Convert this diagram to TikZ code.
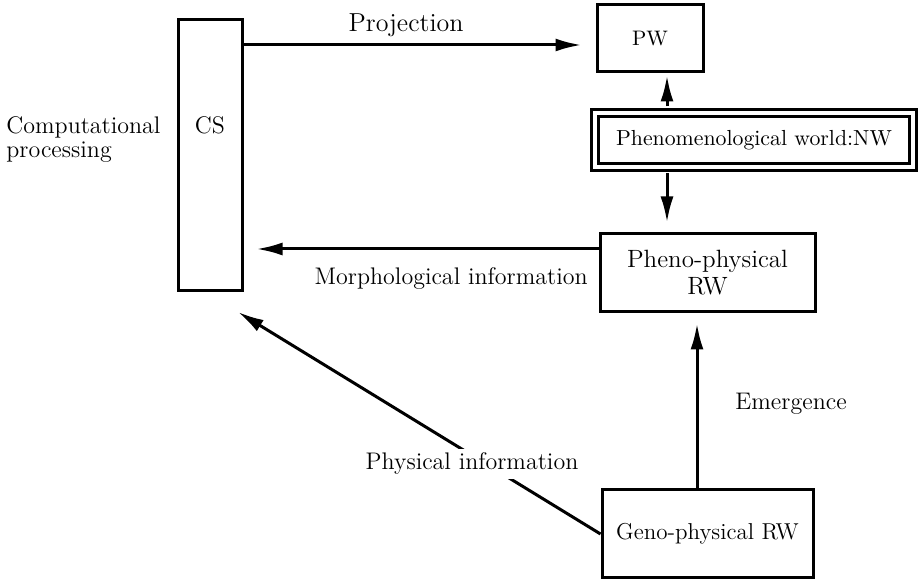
\documentclass[tikz,border=0pt]{standalone}
\usetikzlibrary{arrows.meta,calc}
\begin{document}
\begin{tikzpicture}[x=0.5pt,y=-0.5pt,
  font=\fontsize{12}{14.4}\selectfont,
  box/.style={draw,line width=1.5pt,inner sep=0pt,align=center},
  arr/.style={line width=1.5pt,-{Latex[length=13pt,width=6.5pt]}},
  lbl/.style={inner sep=0pt}]
\useasboundingbox (0,0) rectangle (921,581);

% boxes
\node[box,minimum width=32pt,minimum height=135.5pt] (cs) at (210,155.5) {};
\node[lbl,anchor=base,font=\fontsize{12}{14}\selectfont] (cstext) at (210,134) {CS};
\node[box,minimum width=53pt,minimum height=33.5pt,font=\fontsize{10.5}{12}\selectfont] (pw) at (650,38.5) {PW};
\node[box,double,double distance=2pt,minimum width=159pt,minimum height=27pt,font=\fontsize{10.9}{13}\selectfont] (nw) at (754,140) {Phenomenological world:NW};
\node[box,minimum width=107.5pt,minimum height=39pt,font=\fontsize{12.5}{13.5}\selectfont] (pheno) at (707.5,273) {Pheno-physical\\RW};
\node[box,minimum width=105.5pt,minimum height=44pt,font=\fontsize{11.5}{13}\selectfont] (geno) at (707.5,534) {Geno-physical RW};

% labels
\node[lbl,anchor=base west] (comp1) at (6,134) {Computational};
\node[lbl,anchor=base west] (comp2) at (6,158) {processing};
\node[lbl,anchor=base,font=\fontsize{13}{15}\selectfont] (proj) at (406,32) {Projection};
\node[lbl,anchor=base east] (morph) at (588,285) {Morphological information};
\node[lbl,anchor=base west] (emerg) at (735,410) {Emergence};

% helper coordinates
\coordinate (py) at (0,45);
\coordinate (vx) at (667,0);
\coordinate (my) at (0,249);
\coordinate (ex) at (697,0);
\coordinate (ptip) at (238,312);

% connectors
\draw[arr,shorten >=7pt] (cs.east |- py) -- (pw.west |- py);
\draw[arr,shorten <=2.5pt,shorten >=1pt] (nw.north -| vx) -- (pw.south -| vx);
\draw[arr,shorten <=2.5pt,shorten >=5pt] (nw.south -| vx) -- (pheno.north -| vx);
\draw[arr,shorten >=6.5pt] (pheno.west |- my) -- (cs.east |- my);
\draw[arr,shorten >=5pt] (geno.north -| ex) -- (pheno.south -| ex);
\draw[arr] (geno.west) -- (ptip);
\node[anchor=base,fill=white,inner sep=2pt] (phys) at (472,470) {Physical information};
\end{tikzpicture}
\end{document}
